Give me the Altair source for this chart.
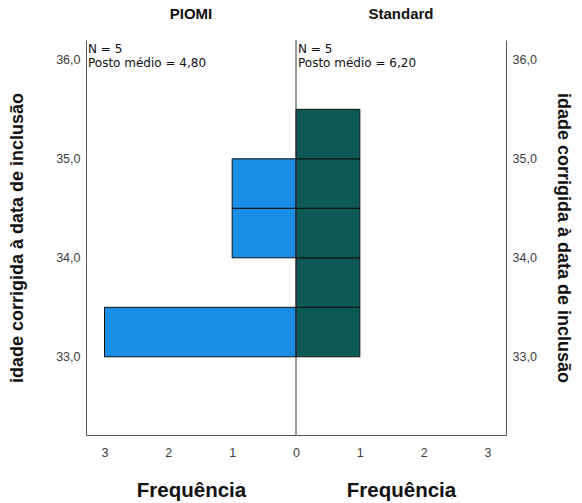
import altair as alt
import pandas as pd

# ---- data ----
bin_lo = [33.0, 33.5, 34.0, 34.5, 35.0]
bin_width = 0.5
piomi_counts = [3, 0, 1, 1, 0]
standard_counts = [1, 1, 1, 1, 1]
groups = ["PIOMI", "Standard"]
n_labels = ["N = 5", "N = 5"]
rank_labels = ["Posto médio = 4,80", "Posto médio = 6,20"]
y_ticks = [33, 34, 35, 36]
x_ticks = [0, 1, 2, 3]

Y_TITLE = "idade corrigida à data de inclusão"
X_TITLE = "Frequência"
FONT = "Liberation Sans"
BLUE = "#1a8de6"
TEAL = "#0c5a56"
LINE = "#555555"

def frame(counts):
    rows = []
    for lo, c in zip(bin_lo, counts):
        if c > 0:
            rows.append({"lo": lo, "hi": lo + bin_width, "zero": 0, "count": c})
    return pd.DataFrame(rows)

y_dom = [32.21, 36.2]
x_dom = [0, 3.29]
W, H = 210, 395

ylab = "replace(format(datum.value, '.1f'), '.', ',')"

def panel(counts, color, title, n_txt, rank_txt, left):
    df = frame(counts)
    xscale = alt.Scale(domain=x_dom, reverse=left, nice=False, zero=False)
    yscale = alt.Scale(domain=y_dom, nice=False, zero=False)
    xaxis = alt.Axis(
        values=[1, 2, 3] if left else x_ticks, format="d",
        title=X_TITLE, grid=False, ticks=False, domain=True, domainColor=LINE,
        labelFont=FONT, labelFontSize=12.5, labelColor="#404040", labelPadding=11,
        titleFont=FONT, titleFontSize=20.5, titleFontWeight="bold", titleColor="#111111",
        titlePadding=22, labelFlush=False,
    )
    yaxis = alt.Axis(
        values=y_ticks, labelExpr=ylab, orient="left" if left else "right",
        title=Y_TITLE, grid=False, ticks=False, domain=True, domainColor=LINE,
        labelFont=FONT, labelFontSize=12.5, labelColor="#404040", labelPadding=6,
        titleFont=FONT, titleFontSize=18, titleFontWeight="bold", titleColor="#111111",
        titlePadding=29 if left else 17,
    )
    bars = alt.Chart(df).mark_rect(
        fill=color, stroke="#111111", strokeWidth=1
    ).encode(
        x=alt.X("zero:Q", scale=xscale, axis=xaxis),
        x2="count:Q",
        y=alt.Y("lo:Q", scale=yscale, axis=yaxis),
        y2="hi:Q",
    )
    txt = alt.Chart(pd.DataFrame({"t": [n_txt, rank_txt], "row": [0, 1]})).mark_text(
        align="left", baseline="middle", font="DejaVu Sans", fontSize=12, color="#111111"
    ).encode(
        text="t:N",
        x=alt.value(2),
        y=alt.Y("row:Q", axis=None, scale=alt.Scale(domain=[0, 1], range=[9, 23])),
    )
    layers = [bars, txt]
    if not left:
        center = alt.Chart(pd.DataFrame({"v": [0]})).mark_rule(
            color="#333333", strokeWidth=1
        ).encode(x=alt.X("v:Q", scale=xscale))
        layers = [bars, center, txt]
    layer = alt.layer(*layers).resolve_scale(y="independent").properties(
        width=W, height=H,
        title=alt.TitleParams(title, font=FONT, fontSize=15, fontWeight="bold",
                              color="#111111", offset=18, anchor="middle"),
    )
    return layer

left = panel(piomi_counts, BLUE, groups[0], n_labels[0], rank_labels[0], True)
right = panel(standard_counts, TEAL, groups[1], n_labels[1], rank_labels[1], False)

chart = alt.hconcat(left, right, spacing=0, bounds="flush").properties(
    padding={"left": 8, "right": 8, "top": 6, "bottom": 3}
).configure_view(stroke=None)

chart.save("out.html", embed_options={"renderer": "svg", "actions": False})
